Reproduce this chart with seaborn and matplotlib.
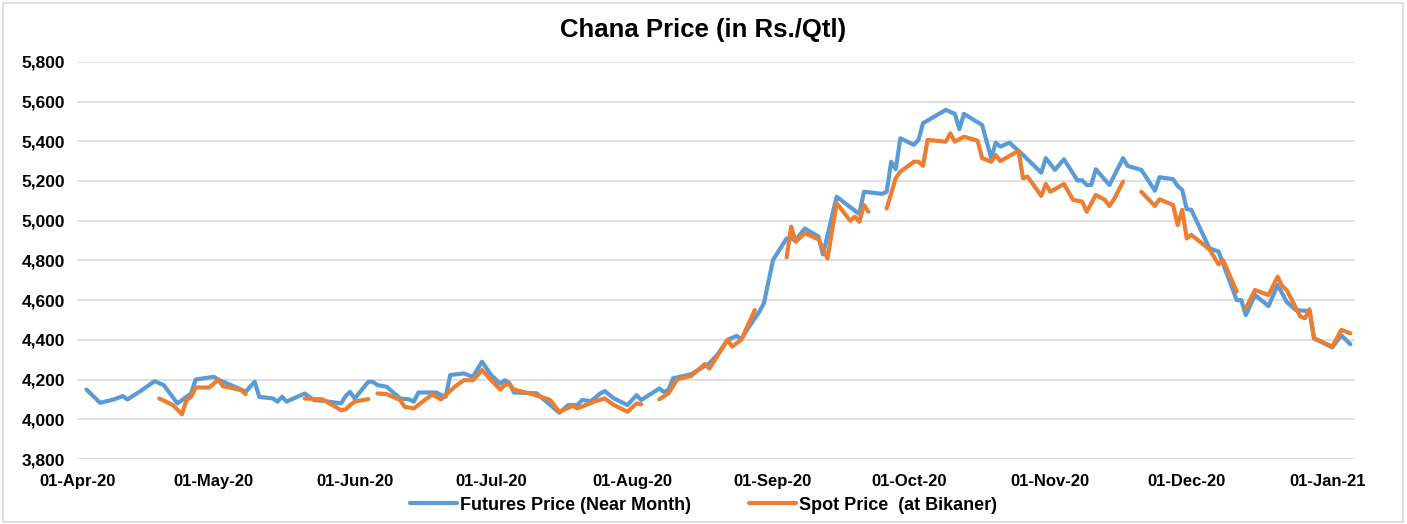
import matplotlib.pyplot as plt
import matplotlib.dates as mdates
import matplotlib.patches as patches
import numpy as np
import pandas as pd
import seaborn as sns

# days counted from 01-Apr-2020
futures_day = [2, 5, 8, 10, 11, 14, 17, 19, 22, 24, 25, 26, 30, 31, 36, 37, 39, 40, 43, 44,
               45, 46, 50, 51, 52, 54, 58, 59, 60, 61, 64, 65, 66, 68, 71, 73, 74, 75, 79, 80,
               81, 82, 85, 87, 89, 91, 93, 94, 95, 96, 101, 106, 108, 110, 111, 113, 115, 116, 118, 121,
               123, 124, 128, 129, 130, 131, 135, 139, 141, 143, 145, 146, 148, 150, 151, 153, 156, 158, 160, 163,
               164, 167, 170, 172, 173, 177, 178, 179, 180, 181, 184, 185, 186, 191, 193, 194, 195, 199, 201, 202,
               203, 205, 208, 212, 213, 215, 217, 220, 221, 222, 223, 224, 227, 230, 231, 234, 235, 237, 238, 241,
               242, 243, 244, 245, 249, 251, 255, 256, 257, 259, 262, 264, 266, 268, 270, 271, 272, 276, 278, 280]
futures_price = [4150, 4083, 4100, 4117, 4100, 4144, 4192, 4172, 4080, 4113, 4130, 4200, 4214, 4200, 4150, 4138, 4189, 4113, 4105, 4089,
                 4113, 4089, 4130, 4113, 4097, 4093, 4080, 4117, 4138, 4105, 4189, 4189, 4172, 4164, 4105, 4100, 4089, 4135, 4135, 4122,
                 4113, 4223, 4231, 4214, 4290, 4223, 4180, 4197, 4183, 4135, 4131, 4033, 4072, 4072, 4097, 4092, 4130, 4142, 4105, 4072,
                 4122, 4097, 4155, 4138, 4147, 4206, 4227, 4282, 4332, 4400, 4420, 4403, 4475, 4542, 4584, 4802, 4911, 4903, 4961, 4920,
                 4830, 5121, 5068, 5034, 5146, 5135, 5146, 5297, 5259, 5415, 5382, 5407, 5491, 5558, 5538, 5461, 5538, 5482, 5315, 5393,
                 5373, 5393, 5331, 5242, 5315, 5256, 5309, 5202, 5204, 5180, 5180, 5259, 5180, 5315, 5276, 5256, 5222, 5151, 5219, 5209,
                 5175, 5155, 5058, 5055, 4861, 4845, 4600, 4600, 4525, 4626, 4570, 4676, 4591, 4550, 4547, 4545, 4408, 4362, 4423, 4378]

# None marks a break in the spot series
spot_day = [18, 21, 23, 24, 25, 26, 29, 31, 32, 36, 37, None,
            50, 54, 58, 59, 60, 61, 64, None,
            66, 68, 71, 72, 74, 78, 80, 81, 83, 85, 87, 89, 91, 93, 94, 95, 96, 100, 102, 104,
            106, 109, 110, 114, 116, 118, 121, 123, 124, None,
            128, 130, 132, 135, 138, 139, 143, 144, 146, 149, None,
            156, 157, 158, 160, 163, 165, 167, 170, 171, 172, 173, 174, None,
            178, 180, 181, 184, 185, 186, 187, 191, 192, 193, 195, 198, 199, 201, 202, 203, 205, 207, 208, 209,
            212, 213, 214, 217, 219, 221, 222, 224, 226, 227, 228, 230, None,
            234, 237, 238, 241, 242, 243, 244, 245, 249, 251, 252, 255, None,
            257, 259, 262, 264, 265, 266, 269, 270, 271, 272, 276, 278, 280]
spot_price = [4105, 4072, 4025, 4097, 4113, 4160, 4160, 4200, 4167, 4147, 4127, None,
              4105, 4100, 4046, 4050, 4072, 4089, 4102, None,
              4130, 4127, 4097, 4063, 4055, 4125, 4100, 4122, 4164, 4197, 4197, 4248, 4197, 4150, 4172, 4177, 4150, 4127, 4113, 4097,
              4038, 4068, 4055, 4092, 4105, 4072, 4038, 4080, 4075, None,
              4101, 4130, 4203, 4218, 4278, 4256, 4400, 4366, 4400, 4550, None,
              4816, 4970, 4894, 4937, 4906, 4810, 5088, 5000, 5020, 4995, 5079, 5045, None,
              5062, 5214, 5247, 5297, 5297, 5276, 5407, 5398, 5440, 5398, 5423, 5403, 5315, 5297, 5331, 5300, 5326, 5352, 5214, 5222,
              5125, 5185, 5146, 5185, 5105, 5096, 5045, 5130, 5105, 5074, 5108, 5197, None,
              5146, 5074, 5108, 5079, 4978, 5055, 4911, 4929, 4856, 4780, 4802, 4643, None,
              4558, 4651, 4626, 4718, 4671, 4651, 4517, 4509, 4554, 4408, 4366, 4450, 4433]

series_names = ['Futures Price (Near Month)', 'Spot Price  (at Bikaner)']
colors = ['#5B9BD5', '#ED7D31']
start = pd.Timestamp('2020-04-01')

fut = pd.DataFrame({'day': futures_day, 'price': futures_price})
fut['seg'] = 0
fut['series'] = series_names[0]

spot = pd.DataFrame({'day': spot_day, 'price': spot_price}, dtype=float)
spot['seg'] = spot['price'].isna().cumsum() + 1
spot = spot.dropna()
spot['series'] = series_names[1]

df = pd.concat([fut, spot], ignore_index=True)
df['date'] = start + pd.to_timedelta(df['day'], unit='D')
df['key'] = df['series'] + df['seg'].astype(int).astype(str)

sns.set_style('white')
plt.rcParams['font.family'] = ['Liberation Sans', 'DejaVu Sans']
plt.rcParams['text.color'] = 'black'
plt.rcParams['xtick.color'] = 'black'
plt.rcParams['ytick.color'] = 'black'

fig = plt.figure(figsize=(14.07, 5.24), dpi=100)
ax = fig.add_axes([0.055, 0.124, 0.908, 0.758])

sns.lineplot(data=df, x='date', y='price', hue='series', units='key', estimator=None,
             palette=colors, hue_order=series_names, linewidth=3, ax=ax, sort=False)

ax.set_ylim(3800, 5800)
ax.set_yticks(np.arange(3800, 5801, 200))
ax.set_yticklabels([f'{v:,}' for v in range(3800, 5801, 200)], fontsize=12.5, fontweight='bold')
ax.set_xlim(start, start + pd.Timedelta(days=281))
ax.xaxis.set_major_locator(mdates.MonthLocator())
ax.xaxis.set_major_formatter(mdates.DateFormatter('%d-%b-%y'))
for lab in ax.get_xticklabels():
    lab.set_fontsize(12)
    lab.set_fontweight('bold')
ax.tick_params(axis='x', length=0, pad=11)
ax.tick_params(axis='y', length=0, pad=9)
ax.grid(axis='y', color='#D9D9D9', linewidth=1.2)
for s in ax.spines.values():
    s.set_visible(False)
ax.set_xlabel('')
ax.set_ylabel('')

fig.suptitle('Chana Price (in Rs./Qtl)', y=0.965, fontsize=18.5, fontweight='bold')

handles, labels = ax.get_legend_handles_labels()
ax.legend_.remove()
fig.legend(handles, labels, loc='center', bbox_to_anchor=(0.5, 0.036), ncol=2, frameon=False,
           prop={'size': 13, 'weight': 'bold'}, handlelength=2.6, handletextpad=0.2, columnspacing=3.2)

fig.add_artist(patches.Rectangle((0.002, 0.004), 0.995, 0.99, transform=fig.transFigure,
                                 fill=False, edgecolor='#D9D9D9', linewidth=1.2))

fig.savefig('out.png', dpi=100)
